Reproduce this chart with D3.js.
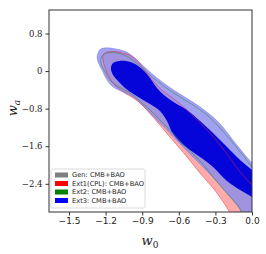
<!DOCTYPE html>
<html><head><meta charset="utf-8">
<script src="https://cdn.jsdelivr.net/npm/d3@7"></script>
<style>html,body{margin:0;padding:0;background:#fff;}svg{display:block;}</style>
</head><body>
<script>
// ---- data (w0, wa) ----
const xTicks = [-1.5, -1.2, -0.9, -0.6, -0.3, 0.0];
const xTickLabels = ["\u22121.5", "\u22121.2", "\u22120.9", "\u22120.6", "\u22120.3", "0.0"];
const yTicks = [0.8, 0, -0.8, -1.6, -2.4];
const yTickLabels = ["0.8", "0", "\u22120.8", "\u22121.6", "\u22122.4"];
const legendLabels = ["Gen: CMB+BAO", "Ext1(CPL): CMB+BAO", "Ext2: CMB+BAO", "Ext3: CMB+BAO"];
const legendColors = ["#808080", "#ff0000", "#008000", "#0000ff"];

// Gen (hidden beneath Ext3 68%)
const gen95 = [[-1.05,0.15],[-0.95,0.1],[-0.85,-0.2],[-0.6,-0.8],[-0.3,-1.5],[-0.3,-1.8],[-0.6,-1.3],[-0.85,-0.6],[-1.05,-0.1]];
// Ext1 (CPL) 95%
const ext1_95 = [[-1.221,0.340],[-1.189,0.400],[-1.139,0.415],[-1.082,0.400],[-1.016,0.350],[-0.959,0.270],[-0.910,0.135],[-0.861,-0.043],[-0.795,-0.255],[-0.730,-0.426],[-0.672,-0.532],[-0.607,-0.660],[-0.508,-0.894],[-0.426,-1.106],[-0.344,-1.319],[-0.262,-1.574],[-0.180,-1.851],[-0.098,-2.149],[0,-2.426],[0.082,-2.702],[0.082,-3.277],[-0.139,-3.277],[-0.180,-3.021],[-0.287,-2.596],[-0.426,-2.170],[-0.566,-1.723],[-0.672,-1.404],[-0.811,-0.979],[-0.893,-0.745],[-0.959,-0.596],[-1.041,-0.468],[-1.115,-0.319],[-1.172,-0.128],[-1.205,0.085],[-1.221,0.234]];
// Ext2 95%
const ext2_95 = [[-1.238,0.277],[-1.213,0.362],[-1.164,0.394],[-1.098,0.383],[-1.033,0.319],[-0.967,0.213],[-0.910,0.085],[-0.836,-0.085],[-0.713,-0.340],[-0.590,-0.553],[-0.484,-0.723],[-0.369,-0.936],[-0.262,-1.213],[-0.156,-1.532],[-0.057,-1.851],[0,-2.043],[0.082,-2.277],[0.082,-3.277],[-0.066,-3.277],[-0.098,-2.936],[-0.180,-2.681],[-0.279,-2.383],[-0.426,-1.915],[-0.566,-1.553],[-0.697,-1.191],[-0.836,-0.830],[-0.902,-0.681],[-0.975,-0.511],[-1.057,-0.383],[-1.131,-0.277],[-1.180,-0.128],[-1.213,0.021],[-1.238,0.170]];
// Ext3 95%
const ext3_95 = [[-1.270,0.298],[-1.246,0.460],[-1.189,0.495],[-1.123,0.475],[-1.041,0.420],[-0.975,0.310],[-0.918,0.175],[-0.836,-0.021],[-0.713,-0.277],[-0.590,-0.490],[-0.484,-0.660],[-0.369,-0.872],[-0.262,-1.123],[-0.156,-1.468],[-0.057,-1.787],[0,-1.957],[0.082,-2.213],[0.148,-3.17],[-0.041,-3.128],[-0.074,-3.021],[-0.156,-2.745],[-0.262,-2.426],[-0.426,-1.979],[-0.566,-1.617],[-0.697,-1.255],[-0.836,-0.894],[-0.893,-0.745],[-0.975,-0.553],[-1.057,-0.447],[-1.139,-0.340],[-1.189,-0.191],[-1.230,0.021],[-1.262,0.191]];
// Ext3 68%
const ext3_68 = [[-1.156,0.064],[-1.139,0.170],[-1.090,0.213],[-1.033,0.213],[-0.959,0.149],[-0.893,0.021],[-0.836,-0.149],[-0.779,-0.362],[-0.713,-0.532],[-0.631,-0.681],[-0.533,-0.830],[-0.426,-1.064],[-0.328,-1.298],[-0.221,-1.574],[-0.115,-1.851],[0,-2.106],[0.082,-2.277],[0.082,-2.851],[0,-2.681],[-0.098,-2.532],[-0.205,-2.340],[-0.328,-2.021],[-0.426,-1.830],[-0.508,-1.681],[-0.590,-1.511],[-0.656,-1.298],[-0.697,-1.064],[-0.754,-0.851],[-0.836,-0.702],[-0.893,-0.617],[-0.959,-0.511],[-1.041,-0.362],[-1.098,-0.213],[-1.139,-0.085]];

// ---- layout ----
const W = 266, H = 254;
const m = {l: 49, r: 252, t: 10, b: 212};
const svg = d3.select("body").append("svg").attr("width", W).attr("height", H);
const x = d3.scaleLinear().domain([-1.664, 0]).range([m.l, m.r]);
const y = d3.scaleLinear().domain([-3.0, 1.3]).range([m.b, m.t]);

svg.append("clipPath").attr("id", "clip").append("rect")
  .attr("x", m.l).attr("y", m.t).attr("width", m.r - m.l).attr("height", m.b - m.t);

const line = d3.line().x(d => x(d[0])).y(d => y(d[1])).curve(d3.curveCatmullRomClosed.alpha(0.5));
const g = svg.append("g").attr("clip-path", "url(#clip)");

g.append("path").attr("d", line(gen95)).attr("fill", "#808080").attr("fill-opacity", 0.5);
g.append("path").attr("d", line(ext1_95)).attr("fill", "#ff0000").attr("fill-opacity", 0.33);
g.append("path").attr("d", line(ext3_95)).attr("fill", "#8c8cec").attr("fill-opacity", 0.82)
  .attr("stroke", "#5555e8").attr("stroke-opacity", 0.5).attr("stroke-width", 0.6);
g.append("path").attr("d", line(ext3_68)).attr("fill", "#0505da");
g.append("path").attr("d", line(ext2_95)).attr("fill", "none").attr("stroke", "#3a8a5a").attr("stroke-width", 0.8).attr("stroke-opacity", 0.8);
g.append("path").attr("d", line(ext1_95)).attr("fill", "none").attr("stroke", "#e8203a").attr("stroke-width", 0.7).attr("stroke-opacity", 0.7);

// frame
svg.append("rect").attr("x", m.l).attr("y", m.t).attr("width", m.r - m.l).attr("height", m.b - m.t)
  .attr("fill", "none").attr("stroke", "#333").attr("stroke-width", 1);

// axes
const xa = svg.append("g").attr("transform", `translate(0,${m.b})`)
  .call(d3.axisBottom(x).tickValues(xTicks).tickFormat((d, i) => xTickLabels[i]).tickSize(3.5).tickPadding(2));
xa.select(".domain").remove();
xa.selectAll("line").attr("stroke", "#333");
xa.selectAll("text").attr("font-family", "DejaVu Sans").attr("font-size", 9).attr("fill", "#222");

const ya = svg.append("g").attr("transform", `translate(${m.l},0)`)
  .call(d3.axisLeft(y).tickValues(yTicks).tickFormat((d, i) => yTickLabels[i]).tickSize(3.5).tickPadding(3));
ya.select(".domain").remove();
ya.selectAll("line").attr("stroke", "#333");
ya.selectAll("text").attr("font-family", "DejaVu Serif").attr("font-size", 8.5).attr("fill", "#222");

// axis labels
const xl = svg.append("text").attr("x", 150).attr("y", 245).attr("text-anchor", "middle")
  .attr("font-family", "DejaVu Serif").attr("font-size", 13).attr("fill", "#222");
xl.append("tspan").attr("font-style", "italic").text("w");
xl.append("tspan").attr("font-size", 9).attr("dy", 2.5).text("0");

const yl = svg.append("text").attr("transform", "translate(17,108) rotate(-90)").attr("text-anchor", "middle")
  .attr("font-family", "DejaVu Serif").attr("font-size", 13).attr("fill", "#222");
yl.append("tspan").attr("font-style", "italic").text("w");
yl.append("tspan").attr("font-style", "italic").attr("font-size", 9).attr("dy", 2.5).text("a");

// legend
const lg = svg.append("g");
lg.append("rect").attr("x", 51).attr("y", 169).attr("width", 94).attr("height", 39).attr("rx", 1.5)
  .attr("fill", "#fff").attr("fill-opacity", 0.85).attr("stroke", "#d0d0d0").attr("stroke-width", 0.8);
legendLabels.forEach((t, i) => {
  const cy = 175 + i * 8.5;
  lg.append("rect").attr("x", 55).attr("y", cy - 2.5).attr("width", 13).attr("height", 5).attr("fill", legendColors[i]);
  lg.append("text").attr("x", 72).attr("y", cy).attr("dy", "0.35em").attr("font-family", "DejaVu Sans")
    .attr("font-size", 6.7).attr("fill", "#222").text(t);
});
</script>
</body></html>
